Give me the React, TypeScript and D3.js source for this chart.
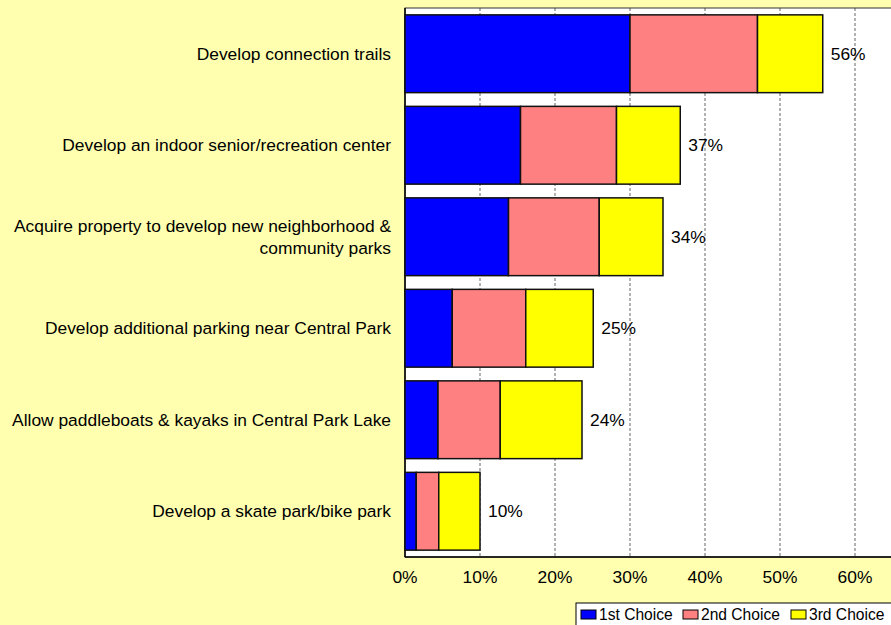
import React from 'react';
import * as d3 from 'd3';

const categories = [
  ['Develop connection trails'],
  ['Develop an indoor senior/recreation center'],
  ['Acquire property to develop new neighborhood &', 'community parks'],
  ['Develop additional parking near Central Park'],
  ['Allow paddleboats & kayaks in Central Park Lake'],
  ['Develop a skate park/bike park'],
];
const first = [30.0, 15.4, 13.8, 6.3, 4.4, 1.5];
const second = [17.0, 12.8, 12.1, 9.8, 8.3, 3.0];
const third = [8.7, 8.5, 8.5, 9.0, 10.9, 5.5];
const seriesNames = ['1st Choice', '2nd Choice', '3rd Choice'];
const colors = ['#0000FF', '#FF8080', '#FFFF00'];
const xTicks = [0, 10, 20, 30, 40, 50, 60];

const width = 891;
const height = 625;
const font = '"Liberation Sans", Arial, sans-serif';

// plot area runs past the right edge of the picture
const x = d3.scaleLinear().domain([0, 70]).range([405, 930]);
const y = d3.scaleBand<number>()
  .domain(d3.range(categories.length))
  .range([8, 557])
  .paddingInner(0.15)
  .paddingOuter(0.075);

const rows = categories.map((c, i) => ({ i, a: first[i], b: second[i], c: third[i] }));
const stacked = d3.stack<any>().keys(['a', 'b', 'c'])(rows);

const App = () => {
  return (
    <svg width={width} height={height} style={{ position: 'absolute', left: 0, top: 0 }} fontFamily={font}>
      <rect x={0} y={0} width={width} height={height} fill="#FFFFAF" />
      <rect x={x(0)} y={8} width={x(70) - x(0)} height={549} fill="#FFFFFF" />
      {xTicks.slice(1).map(t => (
        <line key={t} x1={x(t)} x2={x(t)} y1={8} y2={557} stroke="#666" strokeWidth={1} strokeDasharray="3,2" />
      ))}
      <rect x={x(0)} y={8} width={x(70) - x(0)} height={549} fill="none" stroke="#333" strokeWidth={1} />
      <line x1={x(0)} x2={x(0)} y1={8} y2={557} stroke="#000" strokeWidth={1.5} />
      <line x1={x(0)} x2={x(70)} y1={557} y2={557} stroke="#000" strokeWidth={1.5} />

      {stacked.map((s, si) => (
        <g key={si}>
          {s.map((d, i) => (
            <rect key={i} x={x(d[0])} y={y(i)} width={x(d[1]) - x(d[0])} height={y.bandwidth()}
              fill={colors[si]} stroke="#111" strokeWidth={1.5} />
          ))}
        </g>
      ))}

      {rows.map((r, i) => {
        const total = r.a + r.b + r.c;
        return (
          <text key={i} x={x(total) + 8} y={y(i)! + y.bandwidth() / 2} dy="0.35em" fontSize={17.4} fill="#000">
            {Math.round(total)}%
          </text>
        );
      })}

      {categories.map((lines, i) => {
        const cy = y(i)! + y.bandwidth() / 2;
        const lh = 22;
        const y0 = cy - ((lines.length - 1) * lh) / 2;
        return (
          <text key={i} x={391} textAnchor="end" fontSize={17.4} fill="#000">
            {lines.map((l, j) => (
              <tspan key={j} x={391} y={y0 + j * lh} dy="0.35em">{l}</tspan>
            ))}
          </text>
        );
      })}

      {xTicks.map(t => (
        <text key={t} x={x(t)} y={577} dy="0.35em" textAnchor="middle" fontSize={17.4} fill="#000">{t}%</text>
      ))}

      <rect x={576} y={603} width={330} height={40} fill="#FFFFFF" stroke="#000" strokeWidth={1} />
      {seriesNames.map((n, i) => {
        const lx = [581, 683, 791][i];
        return (
          <g key={n}>
            <rect x={lx} y={610} width={15} height={9} fill={colors[i]} stroke="#000" strokeWidth={1} />
            <text x={lx + 18} y={615} dy="0.35em" fontSize={15.6} fill="#000">{n}</text>
          </g>
        );
      })}
    </svg>
  );
};

export default App;
